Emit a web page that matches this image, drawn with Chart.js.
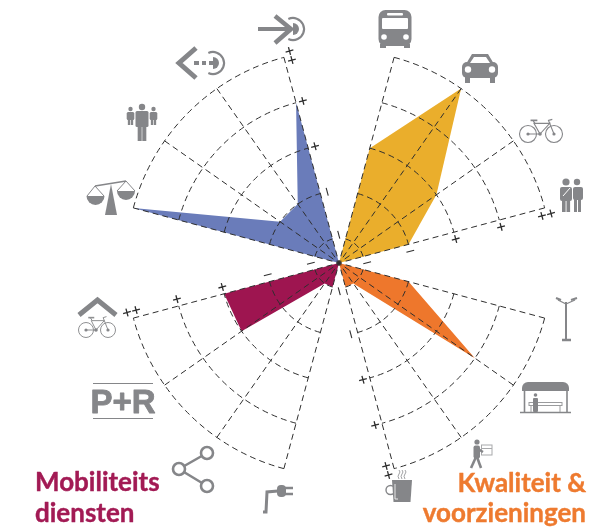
<!DOCTYPE html>
<html lang="nl">
<head>
<meta charset="utf-8">
<title>Mobiliteit</title>
<script src="https://cdn.jsdelivr.net/npm/chart.js@4/dist/chart.umd.min.js"></script>
<style>
  html, body { margin: 0; padding: 0; background: #ffffff; }
  canvas { display: block; }
</style>
</head>
<body>
<canvas id="wheel" width="614" height="532"></canvas>
<script>
// spoke angles in degrees, clockwise from north
const yellowAngles = [15, 35, 55, 75];
const orangeAngles = [105, 125, 145, 165];
const crimsonAngles = [255, 235, 215, 195];
const blueAngles = [345, 325, 305, 285];

// scores, 1 = inner ring, 5 = outer ring
const yellowValues = [3, 5, 3, 2];
const orangeValues = [2, 4, 1, 1];
const crimsonValues = [3, 3, 1, 1];
const blueValues = [4, 2, 2, 5];

const ringValues = [1, 2, 3, 4, 5];

// the +/- marks next to the last spoke of each quadrant
const markAngles = [345, 75, 165, 255];
const plusValues = [3, 4, 4.9, 5.1];
const minusValues = [1.05, 2];

const GREY = "#858689";
const DASH = "#2e2e2e";

// ring 1 does not sit at radius 1, the whole grid is shifted a bit inwards
const radiusOf = (v) => (v === 0 ? 0 : v - 0.47);
const rad = (deg) => (deg * Math.PI) / 180;

function polarPoint(angle, value, side) {
  const r = radiusOf(value);
  const s = side || 0;
  return {
    x: r * Math.sin(rad(angle)) + s * Math.cos(rad(angle)),
    y: r * Math.cos(rad(angle)) - s * Math.sin(rad(angle)),
  };
}

function shape(angles, values) {
  return [{ x: 0, y: 0 }].concat(angles.map((a, i) => polarPoint(a, values[i])));
}

function markPoints(values) {
  const pts = [];
  markAngles.forEach((a) => values.forEach((v) => pts.push(polarPoint(a, v, 0.15))));
  return pts;
}

function markRotations(values) {
  const rots = [];
  markAngles.forEach((a) => values.forEach(() => rots.push(a - 90)));
  return rots;
}

// fills the quadrant shapes, then puts the dashed web over them
const webPlugin = {
  id: "web",
  beforeDatasetsDraw(chart) {
    const ctx = chart.ctx;
    chart.data.datasets.forEach((ds, i) => {
      if (!ds.shapeColor) return;
      const pts = chart.getDatasetMeta(i).data;
      ctx.beginPath();
      pts.forEach((p, j) => (j ? ctx.lineTo(p.x, p.y) : ctx.moveTo(p.x, p.y)));
      ctx.closePath();
      ctx.fillStyle = ds.shapeColor;
      ctx.fill();
    });

    const cx = chart.scales.x.getPixelForValue(0);
    const cy = chart.scales.y.getPixelForValue(0);
    const unit = chart.scales.x.getPixelForValue(1) - cx;
    ctx.save();
    ctx.strokeStyle = DASH;
    ctx.lineWidth = 1;
    ctx.setLineDash([6, 4]);
    [yellowAngles, orangeAngles, crimsonAngles, blueAngles].forEach((angles) => {
      const lo = Math.min(...angles);
      const hi = Math.max(...angles);
      ringValues.forEach((v) => {
        ctx.beginPath();
        ctx.arc(cx, cy, radiusOf(v) * unit, rad(lo - 90), rad(hi - 90));
        ctx.stroke();
      });
      // from the rim inwards, so the dashes do not all pile up on the hub
      angles.forEach((a) => {
        const end = polarPoint(a, 5);
        ctx.beginPath();
        ctx.moveTo(cx + end.x * unit, cy - end.y * unit);
        ctx.lineTo(cx, cy);
        ctx.stroke();
      });
    });
    ctx.restore();
  },
  afterDraw(chart) {
    drawIcons(chart.ctx);
    drawTexts(chart.ctx);
  },
};

function line(ctx, width, pts) {
  ctx.lineWidth = width;
  ctx.beginPath();
  pts.forEach((p, i) => (i ? ctx.lineTo(p[0], p[1]) : ctx.moveTo(p[0], p[1])));
  ctx.stroke();
}

function poly(ctx, pts) {
  ctx.beginPath();
  pts.forEach((p, i) => (i ? ctx.lineTo(p[0], p[1]) : ctx.moveTo(p[0], p[1])));
  ctx.closePath();
  ctx.fill();
}

function disc(ctx, x, y, r) {
  ctx.beginPath();
  ctx.arc(x, y, r, 0, Math.PI * 2);
  ctx.fill();
}

function ring(ctx, x, y, r, width) {
  ctx.lineWidth = width;
  ctx.beginPath();
  ctx.arc(x, y, r, 0, Math.PI * 2);
  ctx.stroke();
}

function box(ctx, x, y, w, h, r) {
  ctx.beginPath();
  ctx.roundRect(x, y, w, h, r);
  ctx.fill();
}

function target(ctx, x, y) {
  ctx.lineWidth = 2.2;
  ctx.beginPath();
  ctx.arc(x, y, 11, rad(-115), rad(115));
  ctx.stroke();
  ctx.beginPath();
  ctx.arc(x, y, 6, rad(-90), rad(90));
  ctx.closePath();
  ctx.fill();
}

function bike(ctx, x1, x2, y, r, w) {
  const bb = (x1 + x2) / 2;
  const top = y - r * 1.25;
  ring(ctx, x1, y, r, w);
  ring(ctx, x2, y, r, w);
  line(ctx, w, [[x1, y], [bb - 1, y], [x1 + r * 0.7, top], [x2 - r * 0.5, top], [bb - 1, y]]);
  line(ctx, w, [[x1 + r * 0.7 - 1, top - 3], [x1 + r * 0.7 + 1, top]]);
  line(ctx, w + 0.6, [[x1 + r * 0.3, top - 3], [x1 + r * 1.1, top - 3]]);
  line(ctx, w, [[x2, y], [x2 - r * 0.65, top - 3], [x2 - r * 0.2, top - 4]]);
  disc(ctx, x1, y, 1.6);
  disc(ctx, x2, y, 1.6);
  disc(ctx, bb - 1, y, 1.8);
}

function person(ctx, x, headY, headR, halfW, shoulderY, armEnd, footY) {
  disc(ctx, x, headY, headR);
  box(ctx, x - halfW, shoulderY, halfW * 2, armEnd - shoulderY, 1.5);
  const leg = halfW * 0.62;
  ctx.fillRect(x - leg - 0.3, armEnd - 2, leg, footY - armEnd + 2);
  ctx.fillRect(x + 0.3, armEnd - 2, leg, footY - armEnd + 2);
}

function drawIcons(ctx) {
  ctx.save();
  ctx.fillStyle = GREY;
  ctx.strokeStyle = GREY;
  ctx.lineJoin = "miter";

  // arrow into target
  line(ctx, 4, [[258, 29], [290, 29]]);
  line(ctx, 4.5, [[275, 16], [291, 29], [275, 43]]);
  target(ctx, 293, 29);

  // arrow out of target
  line(ctx, 5, [[196, 48], [179, 63], [196, 78]]);
  line(ctx, 4, [[194, 63], [199, 63]]);
  line(ctx, 4, [[202, 63], [206, 63]]);
  line(ctx, 4, [[209, 63], [213, 63]]);
  target(ctx, 213, 63);

  // group of people
  person(ctx, 142, 107, 3.2, 6.5, 111, 127, 141);
  person(ctx, 130.5, 109, 2.2, 3.8, 112, 120, 125);
  person(ctx, 153.5, 109, 2.2, 3.8, 112, 120, 125);

  // scales
  line(ctx, 1.4, [[95, 186], [126, 181]]);
  poly(ctx, [[111, 184], [117, 215], [105, 215]]);
  line(ctx, 1, [[87, 196], [95, 186], [104, 196]]);
  line(ctx, 1, [[117, 191], [126, 181], [135, 191]]);
  ctx.beginPath();
  ctx.arc(95.5, 196, 9, 0, Math.PI);
  ctx.closePath();
  ctx.fill();
  ctx.beginPath();
  ctx.arc(126, 191, 9, 0, Math.PI);
  ctx.closePath();
  ctx.fill();

  // bus
  box(ctx, 378.5, 10, 33, 36, 7);
  ctx.fillRect(380, 44, 6, 4);
  ctx.fillRect(404, 44, 6, 4);
  ctx.fillStyle = "#ffffff";
  box(ctx, 382, 18, 26, 11, 1);
  box(ctx, 387, 13, 16, 2.5, 1);
  disc(ctx, 384, 37, 2.8);
  disc(ctx, 406, 37, 2.8);
  ctx.fillStyle = GREY;

  // car
  poly(ctx, [[472, 54], [488, 54], [494, 64], [466, 64]]);
  box(ctx, 462, 62, 36, 16, 5);
  ctx.fillRect(465, 76, 5, 7);
  ctx.fillRect(490, 76, 5, 7);
  ctx.fillStyle = "#ffffff";
  poly(ctx, [[474, 57], [486, 57], [490, 63], [470, 63]]);
  disc(ctx, 468, 69.5, 3.2);
  disc(ctx, 492, 69.5, 3.2);
  ctx.fillStyle = GREY;

  // bicycle
  bike(ctx, 528, 554, 134, 8.5, 1.1);

  // two people
  disc(ctx, 566, 182, 3.6);
  disc(ctx, 577, 182, 3.2);
  box(ctx, 560, 187, 12, 14, 2);
  ctx.fillRect(562, 199, 3.6, 13);
  ctx.fillRect(566.5, 199, 3.6, 13);
  box(ctx, 573, 187, 10, 13, 2);
  ctx.fillRect(574, 199, 3, 13);
  ctx.fillRect(578, 199, 3, 13);
  ctx.strokeStyle = "#ffffff";
  line(ctx, 1, [[563, 196], [570, 188]]);
  ctx.strokeStyle = GREY;

  // street lamp
  line(ctx, 2, [[566, 302], [566, 340]]);
  line(ctx, 2.5, [[562, 340], [571, 340]]);
  line(ctx, 1.3, [[566, 304], [558, 300]]);
  line(ctx, 1.3, [[566, 304], [575, 300]]);
  line(ctx, 2, [[556, 298], [561, 300]]);
  line(ctx, 2, [[571, 300], [577, 298]]);

  // shelter
  ctx.beginPath();
  ctx.roundRect(522, 382, 47, 9, [6, 6, 0, 0]);
  ctx.fill();
  line(ctx, 1.6, [[524.5, 391], [524.5, 412]]);
  line(ctx, 1.6, [[567, 391], [567, 412]]);
  line(ctx, 1.4, [[520, 412.5], [571, 412.5]]);
  ctx.strokeStyle = "#9a9b9d";
  ctx.lineWidth = 1;
  ctx.strokeRect(529, 402.5, 33, 3);
  line(ctx, 1, [[531, 405], [531, 412]]);
  line(ctx, 1, [[560, 405], [560, 412]]);
  ctx.strokeStyle = GREY;
  disc(ctx, 535.5, 395, 1.8);
  box(ctx, 533, 398, 5, 14, 1);

  // person with parcel
  ctx.strokeStyle = "#a8a9ab";
  ctx.lineWidth = 1;
  ctx.strokeRect(481.5, 445, 10.5, 10);
  line(ctx, 1, [[481.5, 448.5], [492, 448.5]]);
  ctx.strokeStyle = GREY;
  disc(ctx, 477, 442, 2.6);
  box(ctx, 473.5, 445.5, 6.5, 13, 2);
  line(ctx, 2.4, [[478, 449], [483, 452]]);
  line(ctx, 2.6, [[476, 457], [471, 468]]);
  line(ctx, 2.6, [[477, 457], [481, 468]]);

  // coffee mug
  ring(ctx, 390.5, 490, 4.5, 1.4);
  poly(ctx, [[392, 480], [412, 480], [410.5, 502], [393.5, 502]]);
  ctx.strokeStyle = "#ffffff";
  line(ctx, 0.8, [[395, 484], [395, 499], [398, 499]]);
  ctx.strokeStyle = "#a0a1a3";
  [399, 402, 405].forEach((x) => {
    ctx.lineWidth = 1;
    ctx.beginPath();
    ctx.moveTo(x, 470);
    ctx.quadraticCurveTo(x + 2, 472, x, 474);
    ctx.quadraticCurveTo(x - 2, 476, x, 479);
    ctx.stroke();
  });
  ctx.strokeStyle = GREY;

  // plug
  line(ctx, 3, [[263, 512], [266, 512], [267, 492], [278, 491]]);
  box(ctx, 277, 485, 9, 12, 4);
  line(ctx, 2.5, [[285, 488], [293, 488]]);
  line(ctx, 2.5, [[285, 494], [293, 494]]);

  // share
  line(ctx, 2.5, [[207, 453], [179, 469], [207, 486]]);
  ctx.fillStyle = "#ffffff";
  [[207, 453], [179, 469], [207, 486]].forEach((p) => {
    disc(ctx, p[0], p[1], 6);
    ring(ctx, p[0], p[1], 6, 2.6);
  });
  ctx.fillStyle = GREY;

  // bicycle under a roof
  line(ctx, 5, [[79, 315], [97.5, 300], [116, 315]]);
  ctx.strokeStyle = "#8f9092";
  bike(ctx, 86, 108, 330, 7.5, 1);
  ctx.strokeStyle = GREY;

  // P+R rules
  line(ctx, 1, [[93, 383.5], [153, 383.5]]);
  line(ctx, 1, [[93, 418.5], [153, 418.5]]);
  ctx.restore();
}

function heavyText(ctx, str, x, y, extra) {
  ctx.lineWidth = extra;
  ctx.lineJoin = "round";
  ctx.strokeText(str, x, y);
  ctx.fillText(str, x, y);
}

function drawTexts(ctx) {
  ctx.save();
  ctx.textBaseline = "alphabetic";

  ctx.fillStyle = GREY;
  ctx.strokeStyle = GREY;
  ctx.textAlign = "center";
  ctx.font = "bold 33px 'Liberation Sans Narrow', 'Liberation Sans'";
  heavyText(ctx, "P+R", 123, 413, 0.8);

  ctx.font = "bold 26px Lato, 'Liberation Sans'";
  ctx.fillStyle = "#a21a54";
  ctx.strokeStyle = "#a21a54";
  ctx.textAlign = "left";
  heavyText(ctx, "Mobiliteits", 35, 491, 0.4);
  heavyText(ctx, "diensten", 35, 522, 0.4);

  ctx.fillStyle = "#ee7a2f";
  ctx.strokeStyle = "#ee7a2f";
  ctx.textAlign = "right";
  heavyText(ctx, "Kwaliteit &", 586, 492, 0.4);
  heavyText(ctx, "voorzieningen", 586, 522, 0.4);
  ctx.restore();
}

new Chart(document.getElementById("wheel"), {
  type: "scatter",
  plugins: [webPlugin],
  data: {
    datasets: [
      { label: "Geel", data: shape(yellowAngles, yellowValues), shapeColor: "#eaae2c", pointRadius: 0 },
      { label: "Oranje", data: shape(orangeAngles, orangeValues), shapeColor: "#ee772c", pointRadius: 0 },
      { label: "Mobiliteitsdiensten", data: shape(crimsonAngles, crimsonValues), shapeColor: "#9e1550", pointRadius: 0 },
      { label: "Blauw", data: shape(blueAngles, blueValues), shapeColor: "#6a7cba", pointRadius: 0 },
      {
        label: "plus",
        data: markPoints(plusValues),
        pointStyle: "cross",
        pointRadius: 4,
        pointRotation: markRotations(plusValues),
        pointBorderColor: DASH,
        pointBorderWidth: 1.3,
      },
      {
        label: "min",
        data: markPoints(minusValues),
        pointStyle: "line",
        pointRadius: 4,
        pointRotation: markRotations(minusValues),
        pointBorderColor: DASH,
        pointBorderWidth: 1.1,
      },
    ],
  },
  options: {
    responsive: false,
    animation: false,
    events: [],
    // no automatic inset, the scales have to span the whole canvas
    layout: { padding: 0, autoPadding: false },
    plugins: { legend: { display: false }, tooltip: { enabled: false } },
    scales: {
      // 1 unit = 47 px, origin on the hub of the wheel
      x: { type: "linear", display: false, min: -339 / 47, max: 275 / 47 },
      y: { type: "linear", display: false, min: -269 / 47, max: 263 / 47 },
    },
  },
});
</script>
</body>
</html>
